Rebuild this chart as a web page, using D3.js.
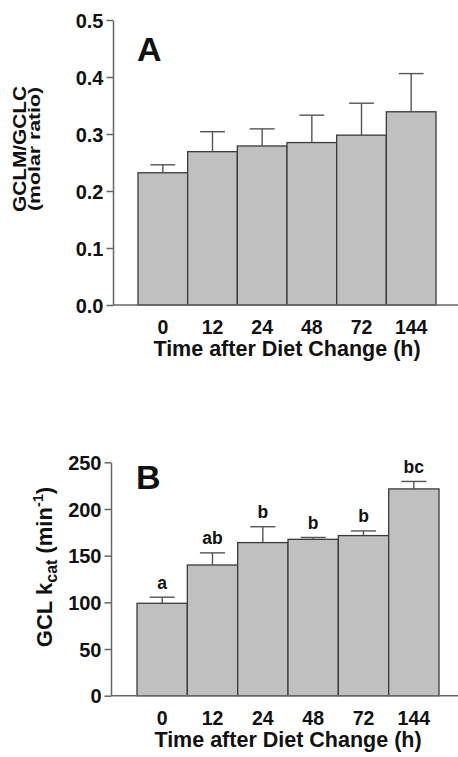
<!DOCTYPE html>
<html>
<head>
<meta charset="utf-8">
<script src="https://cdn.jsdelivr.net/npm/d3@7"></script>
<style>
  html, body { margin: 0; padding: 0; background: #fff; }
  svg text { font-family: "Liberation Sans", Arial, sans-serif; font-weight: bold; fill: #111; }
</style>
</head>
<body>
<div id="chart"></div>
<script>
// Zeitpunkte nach Futterwechsel (h)
const times = ["0", "12", "24", "48", "72", "144"];

// Panel A: GCLM/GCLC (molares Verhältnis), Mittelwert + Fehler
const ratioMean = [0.232, 0.269, 0.279, 0.285, 0.298, 0.339];
const ratioErr  = [0.014, 0.035, 0.030, 0.048, 0.056, 0.067];
const ratioTicks = [0, 0.1, 0.2, 0.3, 0.4, 0.5];

// Panel B: GCL kcat (min^-1), Mittelwert + Fehler + Signifikanz-Buchstaben
const kcatMean = [99, 140, 164, 167.5, 171.5, 221.5];
const kcatErr  = [6.5, 13, 17, 2, 5, 8];
const kcatLetters = ["a", "ab", "b", "b", "b", "bc"];
const kcatTicks = [0, 50, 100, 150, 200, 250];

const W = 458, H = 757;
const svg = d3.select("#chart").append("svg").attr("width", W).attr("height", H);

function panel(o){
  const g = svg.append("g");
  const x = d3.scaleBand().domain(times).range([o.x0, o.x1]).padding(0);
  const y = d3.scaleLinear().domain([0, o.max]).range([o.yb, o.yt]);

  // Balken
  g.selectAll("rect.bar").data(o.mean).join("rect")
    .attr("x", (d,i)=>x(times[i])).attr("width", x.bandwidth())
    .attr("y", d=>y(d)).attr("height", d=>y(0)-y(d))
    .attr("fill", "#c0c0c0").attr("stroke", "#3a3a3a").attr("stroke-width", 1.3);

  // Fehlerbalken (nur nach oben)
  o.mean.forEach((m,i)=>{
    const cx = x(times[i]) + x.bandwidth()/2, top = y(m + o.err[i]), half = x.bandwidth()/4;
    g.append("line").attr("x1",cx).attr("x2",cx).attr("y1",y(m)).attr("y2",top)
      .attr("stroke","#555").attr("stroke-width",1.4);
    g.append("line").attr("x1",cx-half).attr("x2",cx+half).attr("y1",top).attr("y2",top)
      .attr("stroke","#555").attr("stroke-width",1.4);
    if(o.letters) g.append("text").attr("x",cx).attr("y",top-8.5).attr("text-anchor","middle")
      .attr("font-size",17.5).text(o.letters[i]);
  });

  // y-Achse
  const ya = g.append("g").attr("transform",`translate(${o.ax},0)`)
    .call(d3.axisLeft(y).tickValues(o.ticks).tickFormat(o.fmt).tickSize(6.5).tickSizeOuter(0).tickPadding(3));
  ya.selectAll("path,line").attr("stroke","#666").attr("stroke-width",1.5);
  ya.selectAll("text").attr("font-size",20).attr("fill","#111").attr("dy","0.36em");

  // x-Achse: Linie bis zum rechten Rand, Beschriftung ohne Ticks
  g.append("line").attr("x1",o.ax).attr("x2",W).attr("y1",y(0)).attr("y2",y(0))
    .attr("stroke","#666").attr("stroke-width",1.5);
  const xa = g.append("g").attr("transform",`translate(0,${y(0)})`)
    .call(d3.axisBottom(x).tickSize(0).tickPadding(0));
  xa.select(".domain").remove();
  xa.selectAll("text").attr("font-size",19.5).attr("fill","#111").attr("dy",null).attr("y",29);

  g.append("text").attr("x",(o.x0+o.x1)/2).attr("y",y(0)+51).attr("text-anchor","middle")
    .attr("font-size",21.5).text("Time after Diet Change (h)");

  // Panel-Buchstabe
  g.append("text").attr("x",o.x0-1).attr("y",o.labelY).attr("font-size",34).text(o.label);
  return {g, x, y};
}

const pA = panel({x0:138, x1:436, yt:20, yb:305, ax:113, max:0.5, mean:ratioMean, err:ratioErr,
  ticks:ratioTicks, fmt:d3.format(".1f"), label:"A", labelY:61});
const pB = panel({x0:137, x1:439, yt:462.3, yb:695.7, ax:111, max:250, mean:kcatMean, err:kcatErr,
  ticks:kcatTicks, fmt:d3.format("d"), letters:kcatLetters, label:"B", labelY:489});

// y-Titel A (zweizeilig)
svg.append("text").attr("transform","translate(25.5,149) rotate(-90)").attr("text-anchor","middle")
  .attr("font-size",17.5).attr("textLength",126).attr("lengthAdjust","spacingAndGlyphs").text("GCLM/GCLC");
svg.append("text").attr("transform","translate(40,149) rotate(-90)").attr("text-anchor","middle")
  .attr("font-size",17).attr("textLength",124).attr("lengthAdjust","spacingAndGlyphs").text("(molar ratio)");

// y-Titel B mit Index und Exponent
const tB = svg.append("text").attr("transform","translate(52,567) rotate(-90)").attr("text-anchor","middle").attr("font-size",22);
tB.append("tspan").text("GCL k");
tB.append("tspan").attr("font-size",16).attr("dy",5).text("cat");
tB.append("tspan").attr("dy",-5).text(" (min");
tB.append("tspan").attr("font-size",14.5).attr("dy",-9).text("-1");
tB.append("tspan").attr("dy",9).text(")");
</script>
</body>
</html>
